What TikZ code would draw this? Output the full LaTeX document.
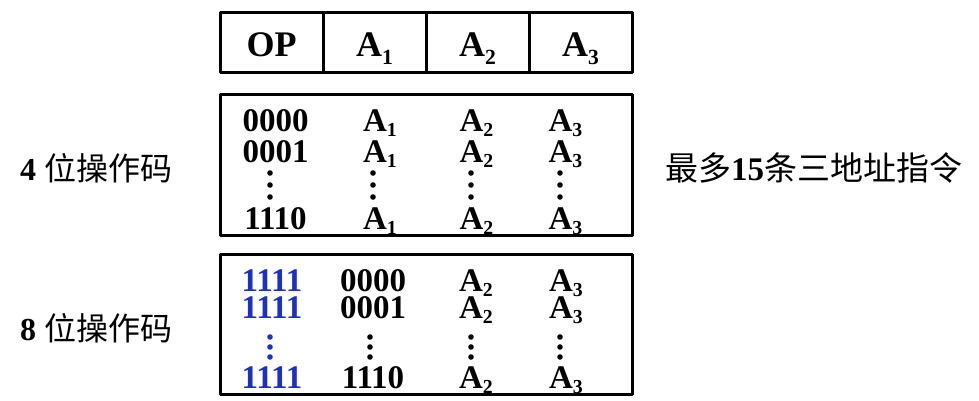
\documentclass[tikz,border=0pt]{standalone}
\usepackage{fontspec}
\setmainfont{Liberation Serif}
\newfontfamily\cjk{Noto Sans CJK SC}
\usetikzlibrary{positioning}

\definecolor{opblue}{RGB}{28,48,196}
\newcommand{\addr}[2][0.16em]{A\raisebox{-#1}{\scalebox{0.6}{#2}}}

\tikzset{
  cell/.style={draw, line width=3pt, minimum width=103pt, minimum height=60pt,
    inner sep=0pt, outer sep=0pt, text height=30pt, text depth=2pt,
    font=\fontsize{36}{36}\selectfont\bfseries},
  entry/.style={anchor=base, inner sep=0pt, font=\fontsize{33}{33}\selectfont\bfseries},
  frame/.style={line width=3pt},
  side/.style={anchor=west, inner sep=0pt, font=\fontsize{32}{38}\selectfont}
}

\begin{document}
\begin{tikzpicture}[line cap=round,line join=round,x=1pt,y=-1pt]
\useasboundingbox (0,0) rectangle (979,401);

% instruction format
\node[cell] (op) at (271.5,42.7) {OP};
\node[cell, right=0pt of op] (a1) {\addr[0.22em]{1}};
\node[cell, right=0pt of a1] (a2) {\addr[0.22em]{2}};
\node[cell, right=0pt of a2] (a3) {\addr[0.22em]{3}};

% 4 bit opcode
\draw[frame] (220,95) rectangle (632,235);

\node[entry] (p1) at (275.5,131.7) {0000};
\node[entry] (p2) at (275.5,162.5) {0001};
\node[entry] (p3) at (275.5,229) {1110};
\foreach \y/\n in {131.7/1, 162.5/2, 229/3} {
  \node[entry] (p\n a1) at (380,\y) {\addr{1}};
  \node[entry] (p\n a2) at (476.5,\y) {\addr{2}};
  \node[entry] (p\n a3) at (565.5,\y) {\addr{3}};
}
\foreach \x in {270,373,471,560}
  \foreach \y in {173,185,197}
    \fill (\x,\y) circle (2.8pt);

% 8 bit opcode
\draw[frame] (220,254) rectangle (632,394);

\foreach \y/\n in {291.7/1, 318.3/2, 388/3} {
  \node[entry, text=opblue] (q\n op) at (272,\y) {1111};
  \node[entry] (q\n a2) at (476,\y) {\addr{2}};
  \node[entry] (q\n a3) at (566,\y) {\addr{3}};
}
\node[entry] (q1) at (373,291.7) {0000};
\node[entry] (q2) at (373,318.3) {0001};
\node[entry] (q3) at (373,388) {1110};
\foreach \y in {337,347,357} {
  \fill[opblue] (270,\y) circle (2.8pt);
  \foreach \x in {370,471,560}
    \fill (\x,\y) circle (2.8pt);
}

% side texts
\node[side] (four) at (20,168) {\textbf{4} {\cjk 位操作码}};
\node[side] (eight) at (20,328) {\textbf{8} {\cjk 位操作码}};
\node[side, font=\fontsize{33}{38}\selectfont] (most) at (665,168)
  {{\cjk 最多}\textbf{15}{\cjk 条三地址指令}};

\end{tikzpicture}
\end{document}
